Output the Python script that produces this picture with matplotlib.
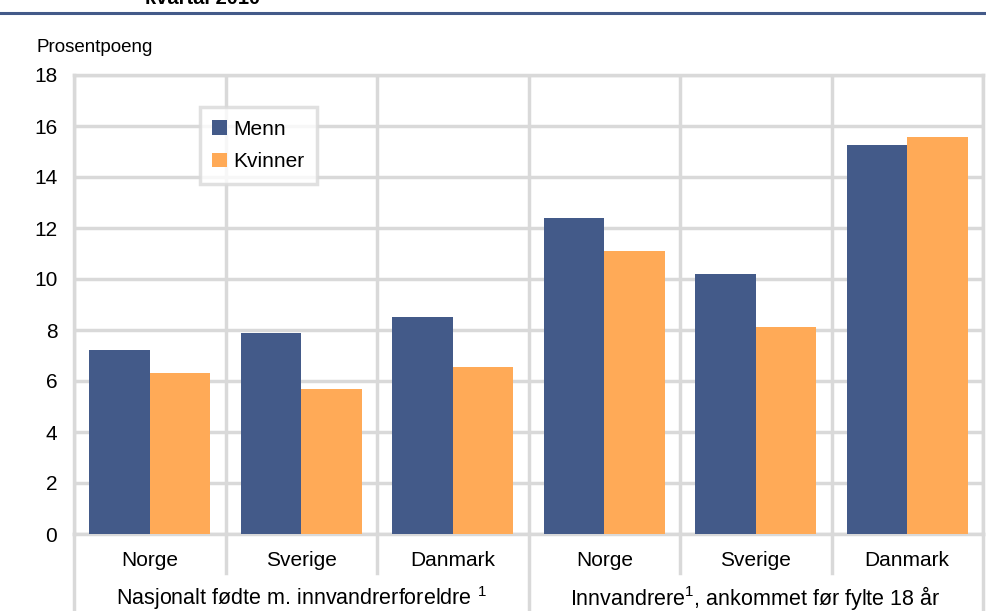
import matplotlib.pyplot as plt
from matplotlib.lines import Line2D
import matplotlib.transforms as mtransforms

plt.rcParams['font.family'] = ['Liberation Sans', 'DejaVu Sans']
plt.rcParams['mathtext.fontset'] = 'custom'
plt.rcParams['mathtext.rm'] = 'Liberation Sans'
plt.rcParams['mathtext.it'] = 'Liberation Sans'

# Data
countries = ['Norge', 'Sverige', 'Danmark', 'Norge', 'Sverige', 'Danmark']
groups = ['Nasjonalt fødte m. innvandrerforeldre $^{1}$',
          'Innvandrere$^{1}$, ankommet før fylte 18 år']
menn = [7.2, 7.9, 8.5, 12.4, 10.2, 15.25]
kvinner = [6.3, 5.7, 6.55, 11.1, 8.1, 15.55]

blue = '#435a89'
orange = '#ffaa57'
grid = '#d9d9d9'

fig = plt.figure(figsize=(9.87, 6.11), dpi=100)
ax = fig.add_axes([74 / 987, 77 / 611, 909 / 987, 459 / 611])

x = list(range(len(countries)))
w = 0.4
ax.bar([i - w / 2 for i in x], menn, width=w, color=blue, label='Menn', zorder=3)
ax.bar([i + w / 2 for i in x], kvinner, width=w, color=orange, label='Kvinner', zorder=3)

ax.set_xlim(-0.5, 5.5)
ax.set_ylim(0, 18)
ax.set_yticks(range(0, 19, 2))
ax.set_xticks(x)
ax.set_xticklabels(countries)
ax.set_xticks([i + 0.5 for i in range(-1, 6)], minor=True)
ax.tick_params(axis='both', which='both', length=0, labelsize=15)
ax.tick_params(axis='y', pad=12)
ax.tick_params(axis='x', pad=12)
ax.grid(True, axis='y', color=grid, linewidth=2.5, zorder=0)
ax.grid(True, axis='x', which='minor', color=grid, linewidth=2.5, zorder=0)
for s in ax.spines.values():
    s.set_color(grid)
    s.set_linewidth(2.5)

# separators below the axis
trans = mtransforms.blended_transform_factory(ax.transData, ax.transAxes)
for xs in [0.5, 1.5, 3.5, 4.5]:
    ax.add_line(Line2D([xs, xs], [0, -0.085], transform=trans, color=grid,
                       linewidth=2.5, clip_on=False))
for xs in [-0.5, 2.5, 5.5]:
    ax.add_line(Line2D([xs, xs], [0, -0.2], transform=trans, color=grid,
                       linewidth=2.5, clip_on=False))

ax.text(1, -0.14, groups[0], transform=trans, ha='center', va='center', fontsize=15.5)
ax.text(4, -0.14, groups[1], transform=trans, ha='center', va='center', fontsize=15.5)

leg = ax.legend(loc='upper left', bbox_to_anchor=(0.1386, 0.93), fontsize=15,
                frameon=True, fancybox=False, handlelength=0.7, handleheight=0.7,
                handletextpad=0.3, borderpad=0.6, labelspacing=0.65,
                borderaxespad=0)
leg.get_frame().set_edgecolor(grid)
leg.get_frame().set_linewidth(2.5)

fig.text(37 / 987, 1 - 48 / 611, 'Prosentpoeng', ha='left', va='center', fontsize=13.5)
fig.text(145 / 987, 1 - 4 / 611, 'kvartal 2010', ha='left', va='baseline',
         fontsize=14.5, fontweight='bold')
fig.add_artist(Line2D([0, 1], [1 - 12.5 / 611, 1 - 12.5 / 611], transform=fig.transFigure,
                      color=blue, linewidth=2.2))

fig.savefig('out.png', dpi=100)
